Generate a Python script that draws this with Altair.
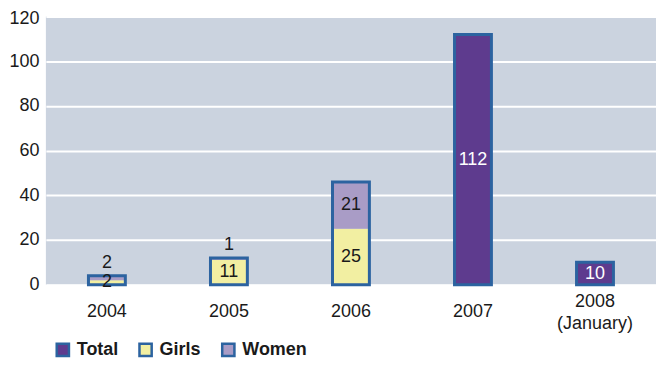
import altair as alt
import pandas as pd

years = ["2004", "2005", "2006", "2007", "2008 (January)"]
girls = [2, 11, 25, 0, 0]
women = [2, 1, 21, 0, 0]
total = [0, 0, 0, 112, 10]
series_names = ["Total", "Girls", "Women"]
colors = ["#5E3B8E", "#F2EFA2", "#A99CC6"]
y_ticks = [0, 20, 40, 60, 80, 100, 120]

rows = []
for i, yr in enumerate(years):
    for order, (name, vals) in enumerate([("Girls", girls), ("Women", women), ("Total", total)]):
        if vals[i] > 0:
            rows.append({"year": yr, "series": name, "value": vals[i], "ord": order})
df = pd.DataFrame(rows)

FONT = "Liberation Sans"
STROKE = "#2C63A0"

base = alt.Chart(df)

x_enc = alt.X("year:N", sort=years, title=None,
              scale=alt.Scale(paddingInner=0.67, paddingOuter=0.335),
              axis=alt.Axis(labelAngle=0, domain=False, ticks=False,
                            labelExpr="split(datum.label, ' ')",
                            labelBaseline="middle",
                            labelPadding={"condition": {"test": "indexof(datum.value, ' ') >= 0", "value": 17}, "value": 27},
                            labelLineHeight=22, labelFontSize=18,
                            labelFont=FONT, labelColor="#1a1a1a"))

bars = base.mark_bar(size=37, strokeWidth=0).encode(
    x=x_enc,
    y=alt.Y("value:Q", stack="zero", title=None,
            scale=alt.Scale(domain=[0, 120], nice=False),
            axis=alt.Axis(values=y_ticks, domain=False, ticks=False,
                          labelFontSize=18, labelFont=FONT, labelColor="#1a1a1a",
                          labelPadding=7, gridColor="white", gridWidth=2,
                          gridOpacity=1,
                          labelOffset={"condition": {"test": "datum.value == 120", "value": 2}, "value": 0})),
    color=alt.Color("series:N", scale=alt.Scale(domain=series_names, range=colors),
                    title=None,
                    legend=alt.Legend(orient="none", legendX=8, legendY=325,
                                      direction="horizontal", symbolType="square",
                                      symbolSize=150, symbolStrokeColor=STROKE,
                                      symbolStrokeWidth=2.5, labelFontSize=18,
                                      labelFont=FONT, labelFontWeight="bold",
                                      labelColor="#1a1a1a", columnPadding=15,
                                      labelOffset=5)),
    order=alt.Order("ord:Q"),
)

outline = base.transform_aggregate(
    tot="sum(value)", groupby=["year"]
).mark_bar(size=37, fillOpacity=0, stroke=STROKE, strokeWidth=3).encode(
    x=alt.X("year:N", sort=years),
    y=alt.Y("tot:Q"),
)

stacked = base.transform_stack(
    stack="value", groupby=["year"], as_=["y0", "y1"],
    sort=[alt.SortField("ord", order="ascending")]
).transform_calculate(
    mid="(datum.y0 + datum.y1) / 2"
)

inside = stacked.transform_filter(
    "!(datum.series == 'Women' && datum.value < 5)"
).mark_text(fontSize=18, font=FONT, baseline="middle").encode(
    x=alt.X("year:N", sort=years),
    y=alt.Y("mid:Q"),
    text=alt.Text("value:Q"),
    color=alt.condition("datum.series == 'Total'", alt.value("white"), alt.value("#1a1a1a")),
)

outside = stacked.transform_filter(
    "datum.series == 'Women' && datum.value < 5"
).mark_text(fontSize=18, font=FONT, baseline="bottom", dy=-4, color="#1a1a1a").encode(
    x=alt.X("year:N", sort=years),
    y=alt.Y("y1:Q"),
    text=alt.Text("value:Q"),
)

chart = alt.layer(bars, outline, inside, outside).properties(
    width=612, height=269,
    autosize=alt.AutoSizeParams(type="none"),
    padding={"left": 38, "top": 8, "right": 0, "bottom": 82},
).configure_view(fill="#CBD3DF", strokeWidth=0)

chart.save("out.html", embed_options={"renderer": "svg", "actions": False})
